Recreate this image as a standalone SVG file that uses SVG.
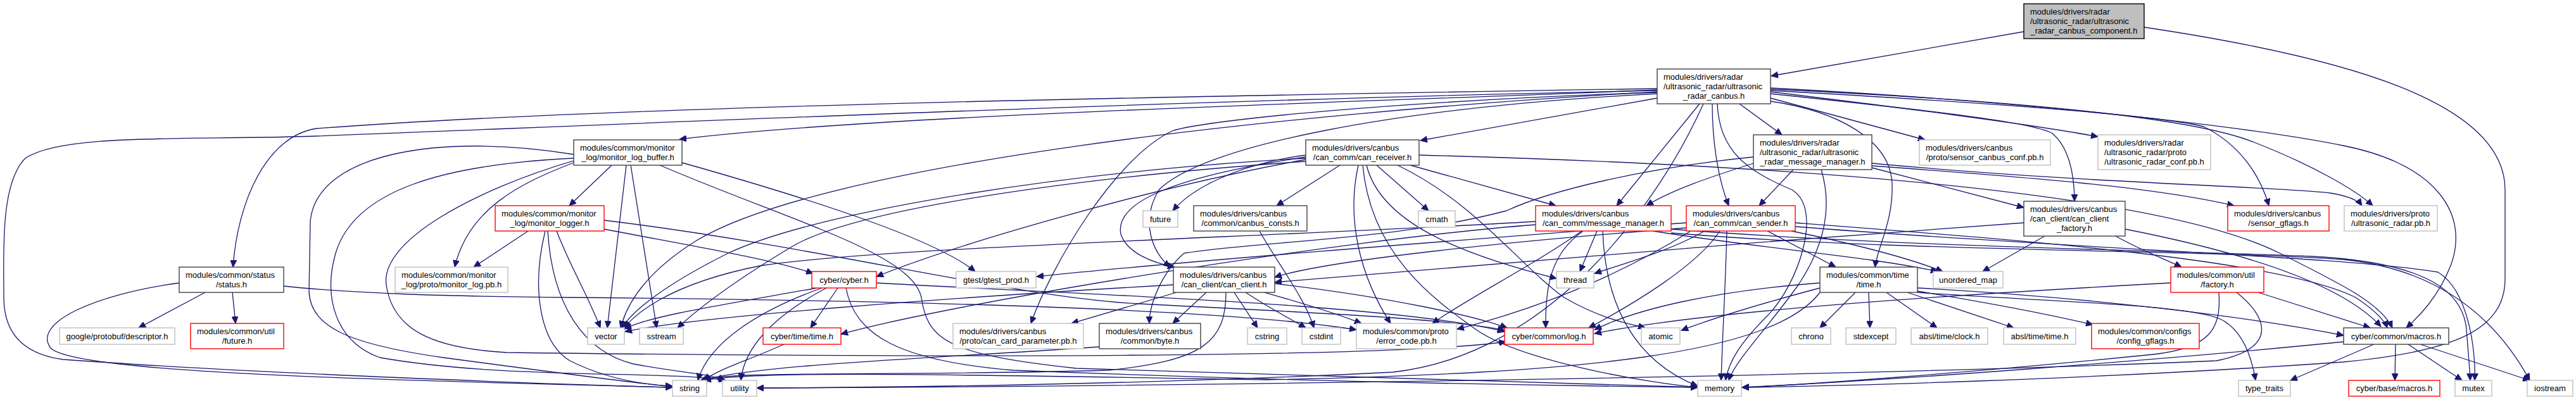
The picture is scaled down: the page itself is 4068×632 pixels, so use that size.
<svg xmlns="http://www.w3.org/2000/svg" width="4068" height="632" viewBox="0 0 4068 632">
<style>
.e path{fill:none;stroke:#191970;stroke-width:1.3;marker-end:url(#a)}
.n rect{fill:#fff;stroke-width:1.4}
.k rect{stroke:#404040}
.r rect{stroke:#ff0000}
.g rect{stroke:#bfbfbf}
.root rect{fill:#bfbfbf;stroke:#000}
text{font-family:"Liberation Sans",Arial,Helvetica,sans-serif;font-size:13px;fill:#000}
.m{text-anchor:middle}
</style>
<defs>
<marker id="a" markerUnits="userSpaceOnUse" markerWidth="12" markerHeight="10" refX="11" refY="5" orient="auto"><path d="M0,0 L11,5 L0,10 z" fill="#191970" stroke="#191970" stroke-width="1"/></marker>
</defs>
<rect width="4068" height="632" fill="#fff"/>
<g id="edges" class="e">
<path d="M3196,50 L2797,120"/>
<path d="M3386,43 C3700,90 3956,160 3956,300 L3956,440 C3956,520 3880,555 3700,572 C3300,600 2900,610 2751,612"/>
<path d="M2617,142 C2200,160 1400,180 1073,220"/>
<path d="M2617,140 C2000,150 1000,165 500,203 C420,215 375,320 368,422"/>
<path d="M2617,143 C1800,160 900,200 500,215 C300,222 100,210 40,250 C0,290 6,400 6,470 C6,530 40,560 100,568 C400,590 900,608 1062,612"/>
<path d="M2617,155 L2243,222"/>
<path d="M2684,164 L2553,325"/>
<path d="M2704,164 C2704,220 2712,280 2730,325"/>
<path d="M2747,164 L2814,213"/>
<path d="M2796,160 C2900,175 2985,220 2988,290 C2990,350 2965,390 2961,422"/>
<path d="M2712,164 C2715,240 2760,270 2830,300 C2880,330 2840,450 2790,500 C2750,540 2730,570 2725,601"/>
<path d="M2796,155 L3040,221"/>
<path d="M2796,145 C3000,170 3200,195 3313,216"/>
<path d="M2796,148 C3000,170 3200,190 3240,210 C3265,230 3276,270 3276,318"/>
<path d="M2796,143 C3100,160 3400,180 3480,200 C3540,230 3570,280 3583,325"/>
<path d="M2796,141 C3100,155 3450,180 3560,225 C3650,260 3720,300 3747,325"/>
<path d="M2796,139 C3200,160 3550,200 3700,230 C3850,260 3900,340 3870,420 C3850,470 3820,500 3800,518"/>
<path d="M2617,145 C2000,180 1300,260 1100,380 C1020,430 990,480 980,518"/>
<path d="M2617,148 C2200,170 1900,230 1830,300 C1800,350 1820,400 1848,422"/>
<path d="M2617,146 C2200,160 1900,190 1851,207 C1760,250 1660,420 1628,511"/>
<path d="M2690,164 C2620,320 2450,560 2200,588 C1800,608 1400,612 1195,613"/>
<path d="M966,261 L899,325"/>
<path d="M906,257 C820,290 740,330 718,422"/>
<path d="M989,261 L959,518"/>
<path d="M996,261 L1037,518"/>
<path d="M1077,257 C1300,320 1480,380 1540,429"/>
<path d="M1042,261 C1250,350 1440,400 1455,470 C1465,540 1500,560 1700,582 C2200,600 2500,608 2681,612"/>
<path d="M906,244 C700,210 500,240 490,350 L488,460 C490,520 560,545 700,565 C850,585 1000,605 1062,611"/>
<path d="M906,250 C700,260 560,300 530,400 C510,470 530,540 600,565 C800,600 1050,585 1146,601"/>
<path d="M906,254 C750,300 600,380 610,450 C620,520 680,550 800,557 C1500,566 2200,565 2378,540"/>
<path d="M834,365 L748,422"/>
<path d="M879,365 C900,420 930,470 948,518"/>
<path d="M861,365 C840,450 850,540 900,570 C960,600 1020,608 1062,610"/>
<path d="M865,365 C872,480 920,555 1000,575 C1080,590 1120,590 1145,601"/>
<path d="M954,362 C1100,390 1220,410 1284,432"/>
<path d="M954,348 C1300,390 1600,470 1800,480 C2100,495 2300,505 2376,522"/>
<path d="M2116,261 L2016,325"/>
<path d="M2145,261 C2125,350 2150,440 2196,511"/>
<path d="M2152,261 C2165,400 2260,470 2330,520 C2400,570 2600,605 2681,612"/>
<path d="M2158,261 C2180,350 2300,400 2458,440"/>
<path d="M2174,261 L2256,333"/>
<path d="M2207,261 C2330,320 2400,420 2470,470 C2530,505 2575,512 2598,518"/>
<path d="M2227,261 L2457,325"/>
<path d="M2062,245 C1950,260 1880,300 1852,333"/>
<path d="M2062,248 C1850,280 1760,320 1770,370 C1780,400 1820,415 1855,422"/>
<path d="M2062,252 C1800,300 1500,390 1384,437"/>
<path d="M2062,250 C1700,270 1300,330 1150,400 C1050,450 1000,490 982,518"/>
<path d="M2062,255 C1700,280 1350,330 1250,390 C1150,450 1100,490 1070,518"/>
<path d="M2241,245 C2800,260 3400,300 3600,400 C3700,450 3760,480 3778,518"/>
<path d="M1989,365 C2020,420 2060,470 2075,518"/>
<path d="M2498,365 C2420,420 2320,470 2262,511"/>
<path d="M2500,365 C2450,400 2440,450 2441,518"/>
<path d="M2522,365 L2495,429"/>
<path d="M2531,365 C2535,480 2580,570 2681,610"/>
<path d="M2425,350 C2000,375 1400,390 1200,420 C1050,450 1000,500 986,518"/>
<path d="M2425,355 C2100,380 1500,480 1328,528"/>
<path d="M2610,365 C2800,395 2950,405 3060,429"/>
<path d="M2639,362 C3000,390 3400,395 3650,405 C3850,415 3890,470 3895,520 C3898,560 3900,580 3901,601"/>
<path d="M2639,368 C3000,398 3500,395 3700,410 C3850,425 3940,500 3995,601"/>
<path d="M2692,365 C2640,395 2570,415 2518,432"/>
<path d="M2716,365 C2680,420 2580,480 2509,518"/>
<path d="M2727,365 C2725,450 2720,530 2718,601"/>
<path d="M2791,365 L2899,422"/>
<path d="M2829,365 C2950,390 3020,410 3068,429"/>
<path d="M2835,352 C3200,380 3600,410 3720,470 C3750,490 3765,505 3770,518"/>
<path d="M2835,358 C3300,395 3700,405 3850,430 C3900,460 3910,560 3908,601"/>
<path d="M2663,352 C2300,380 1900,410 1637,437"/>
<path d="M2670,365 C2550,440 2420,490 2301,520"/>
<path d="M2663,360 C2400,380 2100,410 2013,438"/>
<path d="M3196,352 C2800,380 2300,420 2013,446"/>
<path d="M3229,373 L3131,429"/>
<path d="M3341,373 C3380,395 3420,410 3445,422"/>
<path d="M3356,362 C3550,400 3700,450 3760,516"/>
<path d="M2832,268 L2778,325"/>
<path d="M2769,258 C2700,280 2640,300 2600,325"/>
<path d="M2876,268 C2895,330 2880,390 2840,450 C2790,520 2740,570 2730,601"/>
<path d="M2956,258 C3300,290 3600,295 3680,305 C3710,310 3725,318 3730,325"/>
<path d="M2956,265 L3196,328"/>
<path d="M2956,262 C3200,280 3400,295 3528,325"/>
<path d="M2769,248 C2600,265 2450,300 2379,333 C2200,380 2000,380 1870,400 C1835,430 1815,480 1815,511"/>
<path d="M1323,455 L1280,518"/>
<path d="M1298,455 C1200,490 1120,540 1102,601"/>
<path d="M1305,455 C1220,500 1175,550 1170,601"/>
<path d="M1290,455 C1150,480 1020,500 986,520"/>
<path d="M1336,455 C1350,530 1420,570 1600,585 C2100,605 2500,610 2681,612"/>
<path d="M1384,447 C1700,465 2200,480 2376,524"/>
<path d="M1238,544 C1180,570 1130,585 1112,601"/>
<path d="M1858,462 L1692,511"/>
<path d="M1905,462 L1852,511"/>
<path d="M1936,462 C1936,540 1900,570 1750,585 C1400,595 1150,585 1108,601"/>
<path d="M1949,462 L1986,518"/>
<path d="M1967,462 C2010,490 2040,505 2062,518"/>
<path d="M1997,462 C2060,480 2110,495 2150,511"/>
<path d="M2013,448 C2200,470 2330,500 2380,518"/>
<path d="M1853,450 C1500,470 1100,500 987,524"/>
<path d="M1736,548 C1500,565 1200,575 1106,601"/>
<path d="M2930,462 L2874,518"/>
<path d="M2951,462 L2953,518"/>
<path d="M2979,462 L3059,518"/>
<path d="M3012,462 L3180,518"/>
<path d="M3028,460 C3150,480 3250,500 3305,513"/>
<path d="M3028,455 C3300,470 3550,500 3701,530"/>
<path d="M2874,447 C2700,460 2580,490 2518,521"/>
<path d="M2874,455 C2780,480 2700,505 2655,522"/>
<path d="M2874,462 C2800,560 2500,590 2000,600 C1500,592 1200,585 1112,601"/>
<path d="M3028,462 C3200,475 3450,480 3506,504 C3540,520 3555,560 3562,601"/>
<path d="M3428,447 C3100,465 2700,490 2518,527"/>
<path d="M3504,462 C3508,520 3490,550 3400,560 C3100,590 2850,608 2751,612"/>
<path d="M3532,462 C3580,500 3600,550 3500,570 C2800,600 1600,612 1195,613"/>
<path d="M3566,462 L3743,518"/>
<path d="M3749,544 L3617,601"/>
<path d="M3783,544 L3782,601"/>
<path d="M3803,544 L3888,601"/>
<path d="M3822,544 L3995,601"/>
<path d="M3701,540 C3400,570 3000,600 2751,612"/>
<path d="M324,462 L219,518"/>
<path d="M367,462 L372,511"/>
<path d="M283,447 C150,465 50,510 80,550 C120,590 600,600 1062,612"/>
<path d="M448,452 C560,464 700,468 900,470 C1500,475 1950,490 2142,521"/>
</g>
<g id="n-component" class="n root"><rect x="3196" y="6" width="190" height="55"/><text x="3206" y="23">modules/drivers/radar</text><text x="3206" y="38">/ultrasonic_radar/ultrasonic</text><text class="m" x="3291" y="53">_radar_canbus_component.h</text></g>
<g id="n-canbus" class="n k"><rect x="2617" y="109" width="179" height="55"/><text x="2627" y="126">modules/drivers/radar</text><text x="2627" y="141">/ultrasonic_radar/ultrasonic</text><text class="m" x="2706.5" y="156">_radar_canbus.h</text></g>
<g id="n-mlb" class="n k"><rect x="906" y="221" width="171" height="40"/><text x="916" y="238">modules/common/monitor</text><text class="m" x="991.5" y="253">_log/monitor_log_buffer.h</text></g>
<g id="n-canrecv" class="n k"><rect x="2062" y="221" width="179" height="40"/><text x="2072" y="238">modules/drivers/canbus</text><text class="m" x="2151.5" y="253">/can_comm/can_receiver.h</text></g>
<g id="n-umm" class="n k"><rect x="2769" y="213" width="187" height="55"/><text x="2779" y="230">modules/drivers/radar</text><text x="2779" y="245">/ultrasonic_radar/ultrasonic</text><text class="m" x="2862.5" y="260">_radar_message_manager.h</text></g>
<g id="n-scc" class="n g"><rect x="3031" y="221" width="207" height="40"/><text x="3041" y="238">modules/drivers/canbus</text><text class="m" x="3134.5" y="253">/proto/sensor_canbus_conf.pb.h</text></g>
<g id="n-urc" class="n g"><rect x="3313" y="213" width="178" height="55"/><text x="3323" y="230">modules/drivers/radar</text><text x="3323" y="245">/ultrasonic_radar/proto</text><text class="m" x="3402" y="260">/ultrasonic_radar_conf.pb.h</text></g>
<g id="n-ml" class="n r"><rect x="782" y="325" width="172" height="40"/><text x="792" y="342">modules/common/monitor</text><text class="m" x="868" y="357">_log/monitor_logger.h</text></g>
<g id="n-future" class="n g"><rect x="1805" y="333" width="55" height="26"/><text class="m" x="1832.5" y="350.5">future</text></g>
<g id="n-cc" class="n k"><rect x="1885" y="325" width="179" height="40"/><text x="1895" y="342">modules/drivers/canbus</text><text class="m" x="1974.5" y="357">/common/canbus_consts.h</text></g>
<g id="n-cmath" class="n g"><rect x="2240" y="333" width="58" height="26"/><text class="m" x="2269" y="350.5">cmath</text></g>
<g id="n-mm" class="n r"><rect x="2425" y="325" width="214" height="40"/><text x="2435" y="342">modules/drivers/canbus</text><text class="m" x="2532" y="357">/can_comm/message_manager.h</text></g>
<g id="n-cs" class="n r"><rect x="2663" y="325" width="172" height="40"/><text x="2673" y="342">modules/drivers/canbus</text><text class="m" x="2749" y="357">/can_comm/can_sender.h</text></g>
<g id="n-ccf" class="n k"><rect x="3196" y="318" width="160" height="55"/><text x="3206" y="335">modules/drivers/canbus</text><text x="3206" y="350">/can_client/can_client</text><text class="m" x="3276" y="365">_factory.h</text></g>
<g id="n-sg" class="n r"><rect x="3518" y="325" width="160" height="40"/><text x="3528" y="342">modules/drivers/canbus</text><text class="m" x="3598" y="357">/sensor_gflags.h</text></g>
<g id="n-urp" class="n g"><rect x="3702" y="325" width="147" height="40"/><text x="3712" y="342">modules/drivers/proto</text><text class="m" x="3775.5" y="357">/ultrasonic_radar.pb.h</text></g>
<g id="n-status" class="n k"><rect x="283" y="422" width="165" height="40"/><text x="293" y="439">modules/common/status</text><text class="m" x="365.5" y="454">/status.h</text></g>
<g id="n-mlp" class="n g"><rect x="624" y="422" width="178" height="40"/><text x="634" y="439">modules/common/monitor</text><text class="m" x="713" y="454">_log/proto/monitor_log.pb.h</text></g>
<g id="n-cyber" class="n r"><rect x="1282" y="429" width="102" height="26"/><text class="m" x="1333" y="446.5">cyber/cyber.h</text></g>
<g id="n-gtest" class="n g"><rect x="1510" y="429" width="126" height="26"/><text class="m" x="1573" y="446.5">gtest/gtest_prod.h</text></g>
<g id="n-cl" class="n k"><rect x="1853" y="422" width="160" height="40"/><text x="1863" y="439">modules/drivers/canbus</text><text class="m" x="1933" y="454">/can_client/can_client.h</text></g>
<g id="n-thread" class="n g"><rect x="2458" y="429" width="59" height="26"/><text class="m" x="2487.5" y="446.5">thread</text></g>
<g id="n-time" class="n k"><rect x="2874" y="422" width="154" height="40"/><text x="2884" y="439">modules/common/time</text><text class="m" x="2951" y="454">/time.h</text></g>
<g id="n-umap" class="n g"><rect x="3053" y="429" width="110" height="26"/><text class="m" x="3108" y="446.5">unordered_map</text></g>
<g id="n-factory" class="n r"><rect x="3428" y="422" width="147" height="40"/><text x="3438" y="439">modules/common/util</text><text class="m" x="3501.5" y="454">/factory.h</text></g>
<g id="n-desc" class="n g"><rect x="94" y="518" width="182" height="26"/><text class="m" x="185" y="535.5">google/protobuf/descriptor.h</text></g>
<g id="n-futureh" class="n r"><rect x="301" y="511" width="147" height="40"/><text x="311" y="528">modules/common/util</text><text class="m" x="374.5" y="543">/future.h</text></g>
<g id="n-vector" class="n g"><rect x="928" y="518" width="58" height="26"/><text class="m" x="957" y="535.5">vector</text></g>
<g id="n-sstream" class="n g"><rect x="1010" y="518" width="69" height="26"/><text class="m" x="1044.5" y="535.5">sstream</text></g>
<g id="n-ctime" class="n r"><rect x="1205" y="518" width="123" height="26"/><text class="m" x="1266.5" y="535.5">cyber/time/time.h</text></g>
<g id="n-ccp" class="n g"><rect x="1505" y="511" width="206" height="40"/><text x="1515" y="528">modules/drivers/canbus</text><text class="m" x="1608" y="543">/proto/can_card_parameter.pb.h</text></g>
<g id="n-byte" class="n k"><rect x="1736" y="511" width="160" height="40"/><text x="1746" y="528">modules/drivers/canbus</text><text class="m" x="1816" y="543">/common/byte.h</text></g>
<g id="n-cstring" class="n g"><rect x="1970" y="518" width="62" height="26"/><text class="m" x="2001" y="535.5">cstring</text></g>
<g id="n-cstdint" class="n g"><rect x="2056" y="518" width="61" height="26"/><text class="m" x="2086.5" y="535.5">cstdint</text></g>
<g id="n-errcode" class="n g"><rect x="2142" y="511" width="158" height="40"/><text x="2152" y="528">modules/common/proto</text><text class="m" x="2221" y="543">/error_code.pb.h</text></g>
<g id="n-log" class="n r"><rect x="2376" y="518" width="140" height="26"/><text class="m" x="2446" y="535.5">cyber/common/log.h</text></g>
<g id="n-atomic" class="n g"><rect x="2592" y="518" width="61" height="26"/><text class="m" x="2622.5" y="535.5">atomic</text></g>
<g id="n-chrono" class="n g"><rect x="2829" y="518" width="62" height="26"/><text class="m" x="2860" y="535.5">chrono</text></g>
<g id="n-stdexcept" class="n g"><rect x="2915" y="518" width="79" height="26"/><text class="m" x="2954.5" y="535.5">stdexcept</text></g>
<g id="n-clock" class="n g"><rect x="3018" y="518" width="121" height="26"/><text class="m" x="3078.5" y="535.5">absl/time/clock.h</text></g>
<g id="n-absltime" class="n g"><rect x="3164" y="518" width="114" height="26"/><text class="m" x="3221" y="535.5">absl/time/time.h</text></g>
<g id="n-cfg" class="n r"><rect x="3303" y="511" width="170" height="40"/><text x="3313" y="528">modules/common/configs</text><text class="m" x="3388" y="543">/config_gflags.h</text></g>
<g id="n-macros" class="n k"><rect x="3701" y="518" width="166" height="26"/><text class="m" x="3784" y="535.5">cyber/common/macros.h</text></g>
<g id="n-string" class="n g"><rect x="1062" y="601" width="54" height="25"/><text class="m" x="1089" y="618">string</text></g>
<g id="n-utility" class="n g"><rect x="1141" y="601" width="54" height="25"/><text class="m" x="1168" y="618">utility</text></g>
<g id="n-memory" class="n g"><rect x="2681" y="601" width="69" height="25"/><text class="m" x="2715.5" y="618">memory</text></g>
<g id="n-tt" class="n g"><rect x="3535" y="601" width="82" height="25"/><text class="m" x="3576" y="618">type_traits</text></g>
<g id="n-bmacros" class="n r"><rect x="3709" y="601" width="144" height="25"/><text class="m" x="3781" y="618">cyber/base/macros.h</text></g>
<g id="n-mutex" class="n g"><rect x="3877" y="601" width="58" height="25"/><text class="m" x="3906" y="618">mutex</text></g>
<g id="n-iostream" class="n g"><rect x="3991" y="601" width="72" height="25"/><text class="m" x="4027" y="618">iostream</text></g>
</svg>
